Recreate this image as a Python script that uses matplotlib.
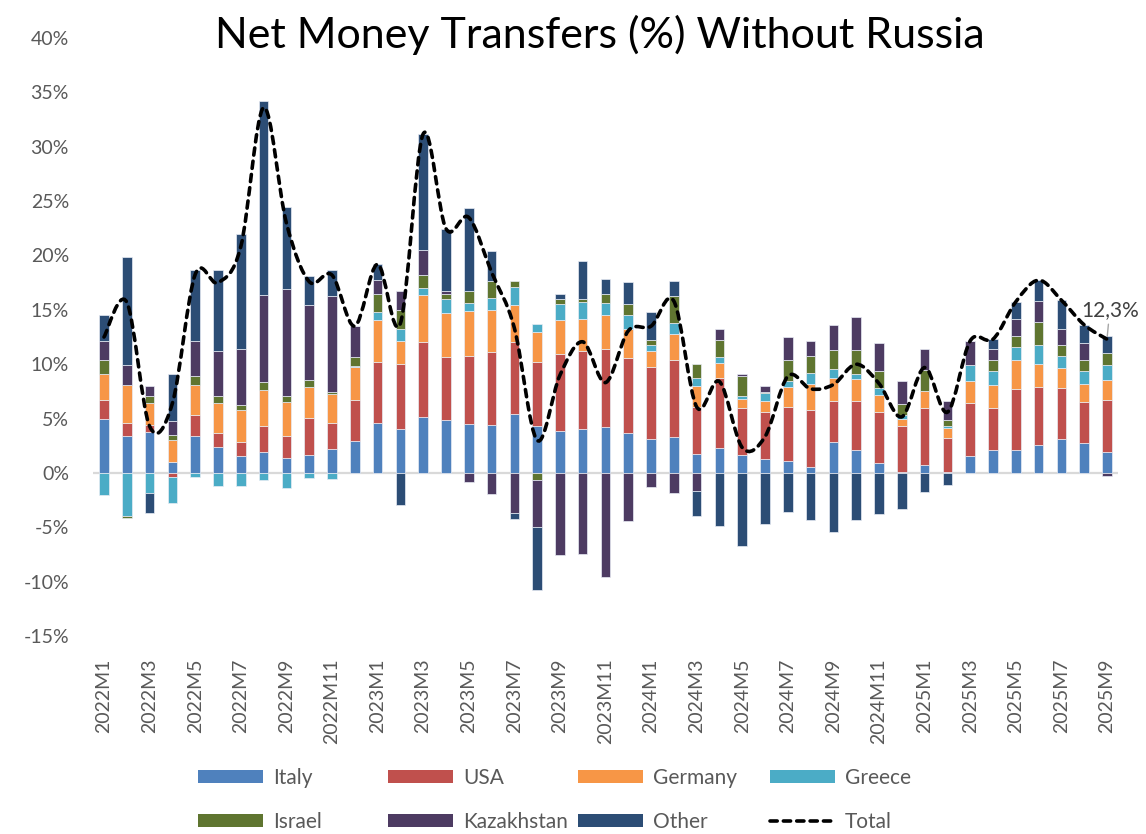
import numpy as np
import matplotlib
matplotlib.use('Agg')
import matplotlib.pyplot as plt
from matplotlib.path import Path
from matplotlib.patches import PathPatch, Patch
from matplotlib.lines import Line2D

plt.rcParams['font.family'] = ['Lato', 'DejaVu Sans']

# months 2022M1 .. 2025M9
meses = [f'{a}M{m}' for a in (2022, 2023, 2024, 2025) for m in range(1, 13)][:45]

italy = [5.0, 3.44, 3.77, 1.01, 3.44, 2.42, 1.56, 1.9, 1.41, 1.63, 2.24, 2.96, 4.63, 4.02, 5.18,
         4.91, 4.54, 4.45, 5.46, 4.36, 3.83, 4.02, 4.2, 3.68, 3.13, 3.28, 1.75, 2.33, 1.63, 1.3,
         1.1, 0.55, 2.85, 2.15, 0.92, 0.12, 0.74, 0.05, 1.56, 2.09, 2.09, 2.61, 3.13, 2.79, 1.9]
usa = [1.75, 1.16, 0.68, -0.37, 1.93, 1.26, 1.29, 2.46, 1.99, 3.43, 2.39, 3.79, 5.58, 6.01, 6.88,
       5.73, 6.26, 6.68, 6.6, 5.85, 7.15, 7.15, 7.21, 6.9, 6.62, 7.09, 4.35, 6.44, 4.35, 4.3,
       4.97, 5.22, 3.78, 4.48, 4.69, 4.24, 5.24, 3.17, 4.91, 3.89, 5.64, 5.3, 4.69, 3.74, 4.79]
germany = [2.33, 3.47, 1.99, 2.06, 2.73, 2.76, 2.95, 3.31, 3.13, 2.85, 2.67, 3.0, 3.9, 2.06, 4.26,
           4.05, 4.08, 3.87, 3.43, 2.73, 3.13, 3.0, 3.1, 2.7, 1.48, 2.42, 1.88, 1.35, 0.86, 1.05,
           1.84, 2.39, 2.08, 1.99, 1.6, 0.64, 1.57, 0.92, 1.97, 2.09, 2.64, 2.15, 1.87, 1.63, 1.84]
greece = [-2.0, -4.0, -1.84, -2.39, -0.37, -1.2, -1.2, -0.61, -1.38, -0.46, -0.52, 0.1, 0.68, 1.19, 0.67,
          1.35, 0.73, 1.13, 1.6, 0.8, 1.41, 1.54, 1.1, 1.23, 0.49, 1.04, 0.72, 0.52, 0.28, 0.67,
          0.53, 1.07, 0.83, 0.52, 0.61, 0.31, 0.0, 0.19, 1.47, 1.35, 1.23, 1.66, 1.05, 1.23, 1.38]
israel = [1.29, -0.1, 0.68, 0.46, 0.8, 0.68, 0.43, 0.67, 0.53, 0.68, 0.18, 0.8, 1.71, 1.69, 1.17,
          0.46, 1.08, 1.48, 0.52, -0.67, 0.46, 0.3, 0.83, 1.07, 0.55, 2.46, 1.33, 1.63, 1.84, 0.1,
          1.93, 1.57, 1.75, 2.15, 1.51, 1.07, 1.9, 0.58, 0.06, 0.95, 0.98, 2.18, 1.04, 0.98, 1.16]
kazakhstan = [1.78, 1.87, 0.88, 1.29, 3.19, 4.05, 5.21, 7.98, 9.87, 6.81, 8.75, 2.85, 1.29, 1.75, 2.3,
              0.25, -0.83, -1.96, -3.65, -4.29, -7.52, -7.42, -9.57, -4.45, -1.29, -1.81, -1.69, 1.01, 0.12, 0.58,
              2.11, 1.29, 2.27, 3.07, 2.63, 2.06, 1.99, 1.75, 2.18, 1.07, 1.59, 1.93, 1.5, 1.59, -0.28]
other = [2.36, 9.88, -1.84, 4.32, 6.53, 7.51, 10.58, 17.91, 7.49, 2.67, 2.45, 0.0, 1.41, -2.98, 10.71,
         5.73, 7.64, 2.82, -0.61, -5.77, 0.52, 3.47, 1.44, 1.94, 2.52, 1.32, -2.27, -4.88, -6.75, -4.66,
         -3.59, -4.36, -5.43, -4.36, -3.74, -3.28, -1.75, -1.07, 0.0, 0.86, 1.57, 1.9, 2.61, 1.66, 1.5]
total = [12.5, 15.7, 4.3, 6.4, 18.25, 17.5, 20.8, 33.6, 23.0, 17.6, 18.2, 13.5, 19.2, 13.74, 31.17,
         22.48, 23.5, 18.47, 13.35, 3.0, 8.98, 12.06, 8.31, 13.07, 13.5, 15.8, 6.07, 8.4, 2.33, 3.34,
         8.89, 7.73, 8.13, 10.0, 8.22, 5.16, 9.69, 5.59, 12.15, 12.3, 15.74, 17.73, 15.89, 13.62, 12.3]

series = [('Italy', italy, '#4F81BD'), ('USA', usa, '#C0504D'), ('Germany', germany, '#F79646'),
          ('Greece', greece, '#4BACC6'), ('Israel', israel, '#5F7530'),
          ('Kazakhstan', kazakhstan, '#4D3B62'), ('Other', other, '#2C4D75')]

cinza = '#595959'

fig = plt.figure(figsize=(11.46, 8.34), dpi=100)
ax = fig.add_axes([0.0808, 0.2374, 0.8951, 0.717])

x = np.arange(len(meses))
base_pos = np.zeros(len(x))
base_neg = np.zeros(len(x))
handles = []
for nome, vals, cor in series:
    v = np.array(vals)
    bottom = np.where(v >= 0, base_pos, base_neg)
    ax.bar(x, v, width=0.42, bottom=bottom, color=cor, edgecolor='#e8ecf4', linewidth=0.5, zorder=2)
    base_pos = base_pos + np.where(v >= 0, v, 0)
    base_neg = base_neg + np.where(v < 0, v, 0)
    handles.append(Patch(facecolor=cor, edgecolor='none', label=nome))

ax.axhline(0, color='#d9d9d9', lw=1.6, zorder=1)

# smoothed total line (bezier like Excel)
pts = np.column_stack([x, total]).astype(float)
verts = [pts[0]]
codes = [Path.MOVETO]
n = len(pts)
for i in range(n - 1):
    p0 = pts[i - 1] if i > 0 else pts[i]
    p1 = pts[i]
    p2 = pts[i + 1]
    p3 = pts[i + 2] if i + 2 < n else pts[i + 1]
    verts += [p1 + (p2 - p0) / 6, p2 - (p3 - p1) / 6, p2]
    codes += [Path.CURVE4] * 3
linha = PathPatch(Path(verts, codes), fill=False, edgecolor='black', lw=2.6,
                  linestyle=(0, (2.0, 1.7)), capstyle='round', zorder=3)
ax.add_patch(linha)

ax.annotate('12,3%', xy=(x[-1], total[-1]), xytext=(2, 21), textcoords='offset points',
            ha='center', va='center', fontsize=15, color='#404040',
            arrowprops=dict(arrowstyle='-', color='#a6a6a6', lw=1, shrinkA=1, shrinkB=2), zorder=4)

ax.set_xlim(-0.5, len(x) - 0.5)
ax.set_ylim(-15, 40)
ax.set_yticks(range(-15, 41, 5))
ax.set_yticklabels([f'{t}%' for t in range(-15, 41, 5)])
ax.set_xticks(x[::2])
ax.set_xticklabels(meses[::2], rotation=90)
ax.tick_params(axis='both', length=0, labelcolor=cinza, labelsize=14)
ax.tick_params(axis='y', pad=17)
ax.tick_params(axis='x', pad=16)
for s in ax.spines.values():
    s.set_visible(False)

fig.text(0.523, 1 - 35 / 834, 'Net Money Transfers (%) Without Russia', ha='center', va='center',
         fontsize=31, color='black')

# legend: 2 rows x 4 columns
handles.append(Line2D([], [], color='black', lw=2.6, linestyle=(0, (2.0, 1.7)),
                      dash_capstyle='round', label='Total'))
col_x = [198, 388, 578, 770]
row_y = [778, 822]
for k, h in enumerate(handles):
    lx = col_x[k % 4] / 1146
    ly = 1 - row_y[k // 4] / 834
    fig.legend(handles=[h], loc='center left', bbox_to_anchor=(lx, ly), frameon=False,
               fontsize=15, labelcolor=cinza, handlelength=3.1, handleheight=0.62,
               handletextpad=0.5, borderpad=0, borderaxespad=0)

fig.savefig('out.png', dpi=100)
